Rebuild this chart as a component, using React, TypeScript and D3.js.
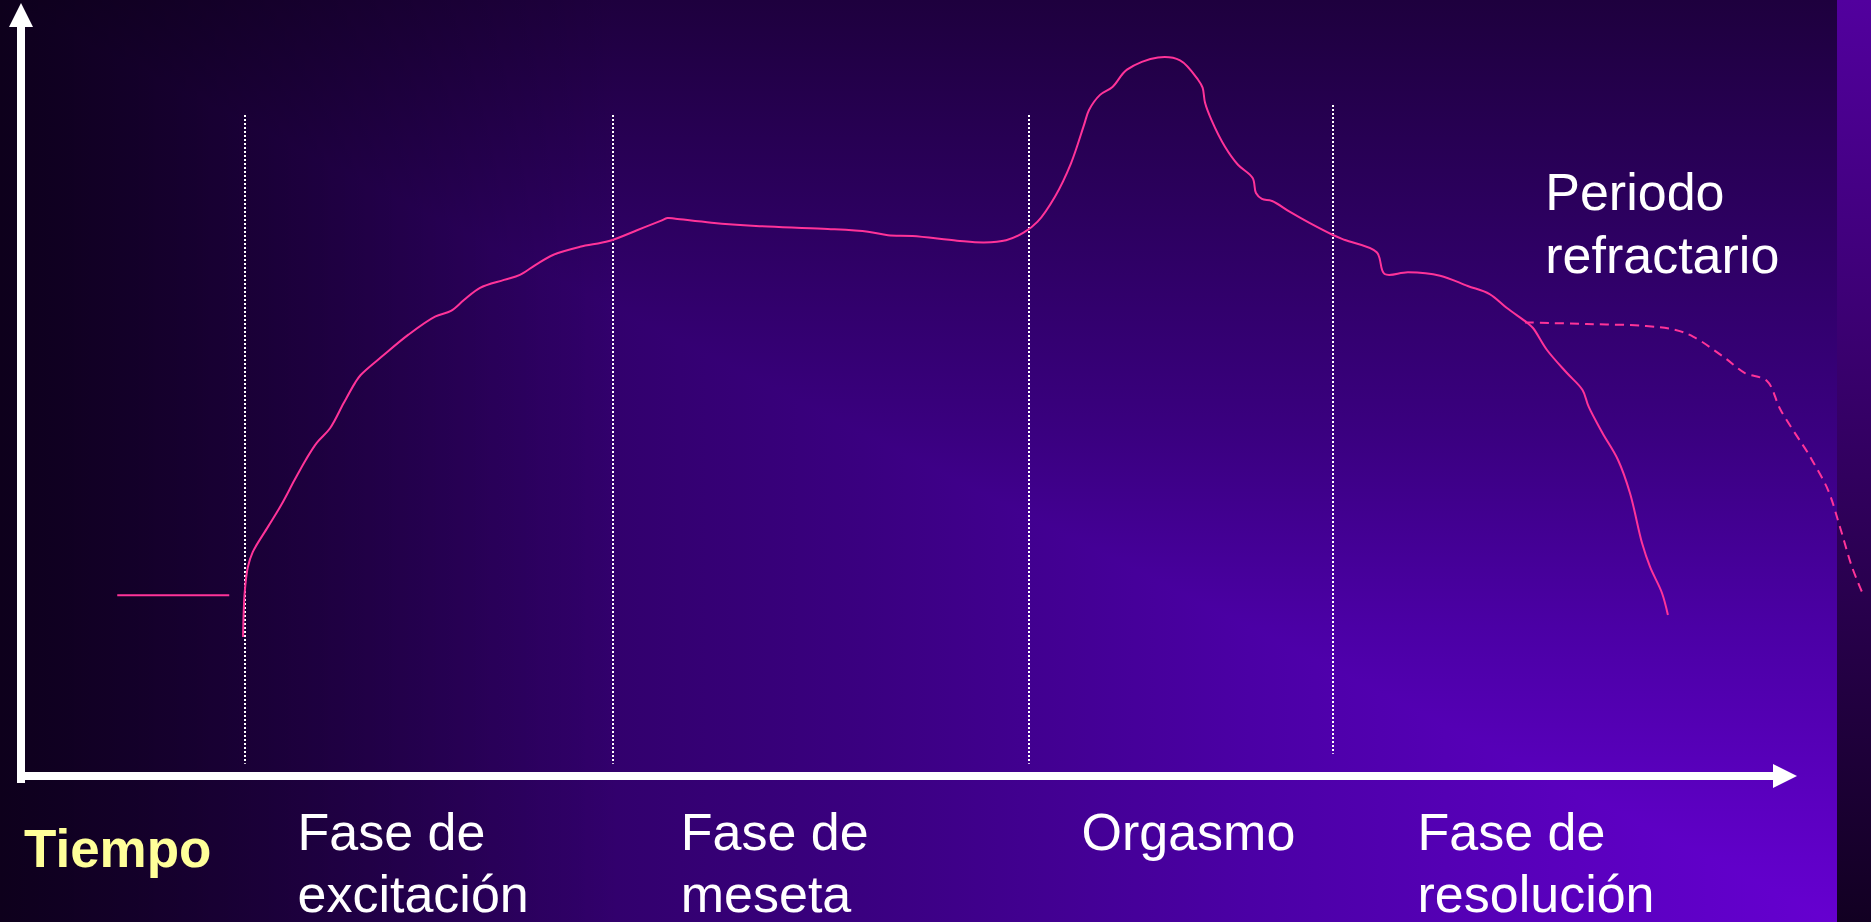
import React from "react";
import * as d3 from "d3";

// ---- data (time units 0..100 on x, arousal level 0..100 on y) ----
const baselineSegment = [
  { t: 5.5, v: 25.1 },
  { t: 11.9, v: 25.1 },
];

const responseCurve = [
  { t: 12.69, v: 19.3 }, { t: 12.78, v: 25.4 }, { t: 12.96, v: 29.0 }, { t: 13.24, v: 31.1 },
  { t: 14.11, v: 34.6 }, { t: 14.86, v: 37.6 }, { t: 15.63, v: 41.1 }, { t: 16.27, v: 43.9 },
  { t: 16.91, v: 46.3 }, { t: 17.66, v: 48.3 }, { t: 18.44, v: 51.8 }, { t: 19.09, v: 54.6 },
  { t: 19.41, v: 55.7 }, { t: 20.74, v: 58.5 }, { t: 22.14, v: 61.3 }, { t: 23.66, v: 63.8 },
  { t: 24.57, v: 64.6 }, { t: 25.31, v: 66.1 }, { t: 26.23, v: 67.8 }, { t: 27.6, v: 68.9 },
  { t: 28.51, v: 69.6 }, { t: 29.41, v: 71.0 }, { t: 30.43, v: 72.4 }, { t: 31.94, v: 73.5 },
  { t: 33.6, v: 74.3 }, { t: 35.2, v: 75.8 }, { t: 36.55, v: 77.1 }, { t: 36.94, v: 77.5 },
  { t: 37.4, v: 77.4 }, { t: 39.46, v: 76.85 }, { t: 42.0, v: 76.4 },
  { t: 45.83, v: 76.0 }, { t: 48.4, v: 75.6 }, { t: 49.54, v: 75.1 }, { t: 50.94, v: 75.0 },
  { t: 53.49, v: 74.35 }, { t: 55.03, v: 74.1 }, { t: 56.29, v: 74.4 }, { t: 57.31, v: 75.5 },
  { t: 58.09, v: 77.0 }, { t: 59.09, v: 80.5 }, { t: 60.0, v: 85.1 }, { t: 60.74, v: 90.4 },
  { t: 61.03, v: 92.5 }, { t: 61.66, v: 94.6 }, { t: 62.37, v: 95.7 }, { t: 63.2, v: 98.1 },
  { t: 64.97, v: 99.8 }, { t: 66.23, v: 99.4 }, { t: 67.26, v: 96.7 }, { t: 67.52, v: 95.6 },
  { t: 67.66, v: 93.5 }, { t: 68.03, v: 91.1 }, { t: 68.8, v: 87.4 }, { t: 69.54, v: 84.9 },
  { t: 70.38, v: 83.06 }, { t: 70.57, v: 80.97 }, { t: 70.91, v: 80.14 }, { t: 71.49, v: 79.86 },
  { t: 72.49, v: 78.38 }, { t: 73.6, v: 76.85 }, { t: 74.97, v: 75.14 }, { t: 75.66, v: 74.44 },
  { t: 77.47, v: 72.74 }, { t: 77.92, v: 69.72 }, { t: 79.26, v: 69.96 }, { t: 81.09, v: 69.49 },
  { t: 82.67, v: 68.06 }, { t: 83.92, v: 66.94 }, { t: 84.91, v: 65.0 }, { t: 86.06, v: 62.96 },
  { t: 86.4, v: 62.22 }, { t: 87.2, v: 59.17 }, { t: 88.34, v: 55.97 }, { t: 89.23, v: 53.61 },
  { t: 89.58, v: 51.29 }, { t: 90.37, v: 47.64 }, { t: 91.26, v: 43.89 }, { t: 91.94, v: 39.31 },
  { t: 92.63, v: 32.36 }, { t: 93.09, v: 29.03 }, { t: 93.77, v: 25.42 }, { t: 94.11, v: 22.36 },
];

const refractoryCurve = [
  { t: 85.94, v: 63.0 }, { t: 89.46, v: 62.78 }, { t: 92.86, v: 62.5 }, { t: 94.55, v: 61.94 },
  { t: 95.57, v: 61.0 }, { t: 97.37, v: 58.06 }, { t: 98.51, v: 55.97 }, { t: 99.77, v: 54.86 },
  { t: 100.55, v: 50.83 }, { t: 102.11, v: 44.86 }, { t: 102.34, v: 43.89 }, { t: 103.26, v: 39.72 },
  { t: 103.94, v: 34.58 }, { t: 104.63, v: 29.03 }, { t: 105.2, v: 25.56 },
];

const phaseBoundaries = [
  { t: 12.8, top: 91.8, bottom: 1.7 },
  { t: 33.83, top: 91.8, bottom: 1.7 },
  { t: 57.6, top: 91.8, bottom: 1.7 },
  { t: 74.97, top: 93.2, bottom: 3.1 },
];

const phaseLabels = [
  ["Fase de", "excitación"],
  ["Fase de", "meseta"],
  ["Orgasmo"],
  ["Fase de", "resolución"],
];
const phaseLabelT = [15.8, 37.7, 60.6, 79.8];

const axisTitle = "Tiempo";
const annotationLines = ["Periodo", "refractario"];
const annotationAt = { t: 87.1, v: 78.6 };

// ---- layout ----
const W = 1871;
const H = 922;
const MAIN_W = 1837;
const FONT = "'Liberation Sans', Arial, Helvetica, sans-serif";

export default function App() {
  const x = d3.scaleLinear().domain([0, 100]).range([21, 1771]);
  const y = d3.scaleLinear().domain([0, 100]).range([776, 56]);

  const line = d3
    .line<{ t: number; v: number }>()
    .x((d) => x(d.t))
    .y((d) => y(d.v))
    .curve(d3.curveCatmullRom.alpha(0.5));
  const straight = d3
    .line<{ t: number; v: number }>()
    .x((d) => x(d.t))
    .y((d) => y(d.v));

  const pink = "#ff3399";

  return (
    <svg
      width={W}
      height={H}
      style={{ position: "fixed", left: 0, top: 0, display: "block" }}
    >
      <defs>
        <linearGradient id="gH" gradientUnits="userSpaceOnUse" x1={0} y1={0} x2={MAIN_W} y2={0}>
          <stop offset="0" stopColor="#1e003e" />
          <stop offset="0.47" stopColor="#3a0080" />
          <stop offset="0.68" stopColor="#4b00a5" />
          <stop offset="0.93" stopColor="#6000c8" />
          <stop offset="1" stopColor="#6600d0" />
        </linearGradient>
        <linearGradient id="gV" gradientUnits="userSpaceOnUse" x1={0} y1={0} x2={0} y2={H}>
          <stop offset="0" stopColor="#1e003e" />
          <stop offset="0.47" stopColor="#3a0080" />
          <stop offset="0.68" stopColor="#4b00a5" />
          <stop offset="0.93" stopColor="#6000c8" />
          <stop offset="1" stopColor="#6600d0" />
        </linearGradient>
        <linearGradient id="gShade" gradientUnits="userSpaceOnUse" x1={0} y1={0} x2={620} y2={0}>
          <stop offset="0" stopColor="#000" stopOpacity={0.55} />
          <stop offset="1" stopColor="#000" stopOpacity={0} />
        </linearGradient>
        <linearGradient id="gBand" x1={0} y1={0} x2={0} y2={1}>
          <stop offset="0" stopColor="#52009e" />
          <stop offset="1" stopColor="#120022" />
        </linearGradient>
      </defs>

      {/* background */}
      <rect x={0} y={0} width={MAIN_W} height={H} fill="url(#gH)" />
      <polygon points={`0,0 ${MAIN_W},0 ${MAIN_W},${H}`} fill="url(#gV)" />
      <rect x={0} y={0} width={MAIN_W} height={H} fill="url(#gShade)" />
      <rect x={MAIN_W} y={0} width={W - MAIN_W} height={H} fill="url(#gBand)" />

      {/* phase boundaries */}
      {phaseBoundaries.map((b, i) => (
        <line
          key={i}
          x1={Math.round(x(b.t))}
          x2={Math.round(x(b.t))}
          y1={y(b.top)}
          y2={y(b.bottom)}
          stroke="#ffffff"
          strokeWidth={2}
          strokeDasharray="2 2"
        />
      ))}

      {/* axes */}
      <line x1={21} y1={783} x2={21} y2={26} stroke="#fff" strokeWidth={8} />
      <polygon points="9,27 33,27 21,3" fill="#fff" />
      <line x1={17} y1={776} x2={1774} y2={776} stroke="#fff" strokeWidth={8} />
      <polygon points="1773,764 1773,788 1797,776" fill="#fff" />

      {/* curves */}
      <path d={straight(baselineSegment) || ""} fill="none" stroke={pink} strokeWidth={2} />
      <path d={line(responseCurve) || ""} fill="none" stroke={pink} strokeWidth={2} strokeLinejoin="round" />
      <path
        d={line(refractoryCurve) || ""}
        fill="none"
        stroke={pink}
        strokeWidth={2}
        strokeDasharray="9 6"
      />

      {/* labels */}
      <text x={24} y={867} fill="#ffff99" fontFamily={FONT} fontWeight="bold" fontSize={53}>
        {axisTitle}
      </text>
      {phaseLabels.map((lines, i) => (
        <text key={i} fill="#ffffff" fontFamily={FONT} fontSize={52}>
          {lines.map((s, j) => (
            <tspan key={j} x={x(phaseLabelT[i])} y={850 + j * 62}>
              {s}
            </tspan>
          ))}
        </text>
      ))}
      <text fill="#ffffff" fontFamily={FONT} fontSize={52}>
        {annotationLines.map((s, j) => (
          <tspan key={j} x={x(annotationAt.t)} y={y(annotationAt.v) + j * 63}>
            {s}
          </tspan>
        ))}
      </text>
    </svg>
  );
}
